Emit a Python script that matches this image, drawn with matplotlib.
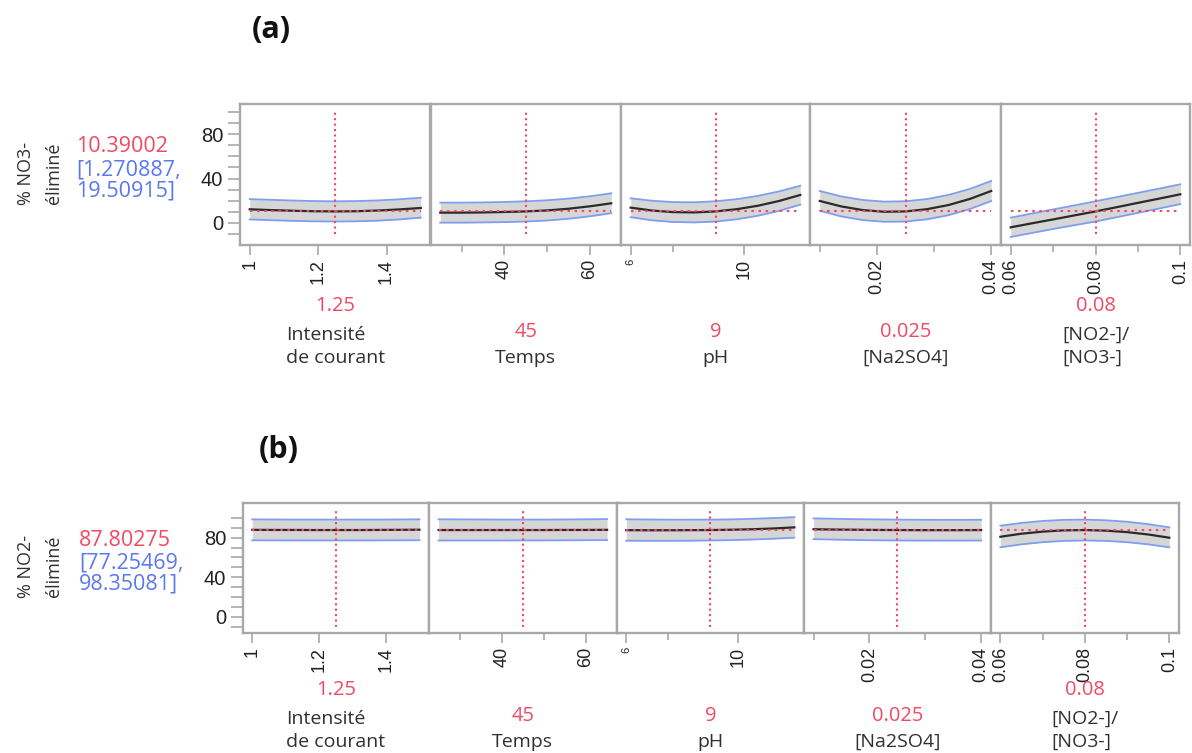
import matplotlib
matplotlib.use("Agg")
import matplotlib.pyplot as plt

W, H = 1192, 753

# factors (shared by both profilers)
factor_names = ["Intensité\nde courant", "Temps", "pH", "[Na2SO4]", "[NO2-]/\n[NO3-]"]
current_x = [1.25, 45, 9, 0.025, 0.08]
current_txt = ["1.25", "45", "9", "0.025", "0.08"]

x_courant = [1.0, 1.0625, 1.125, 1.1875, 1.25, 1.3125, 1.375, 1.4375, 1.5]
x_temps = [25, 30, 35, 40, 45, 50, 55, 60, 65]
x_ph = [6, 6.75, 7.5, 8.25, 9, 9.75, 10.5, 11.25, 12]
x_na2so4 = [0.01, 0.01375, 0.0175, 0.02125, 0.025, 0.02875, 0.0325, 0.03625, 0.04]
x_ratio = [0.06, 0.065, 0.07, 0.075, 0.08, 0.085, 0.09, 0.095, 0.1]
xs = [x_courant, x_temps, x_ph, x_na2so4, x_ratio]

major_ticks = [[1, 1.2, 1.4], [40, 60], [6, 10], [0.02, 0.04], [0.06, 0.08, 0.1]]
major_labels = [["1", "1.2", "1.4"], ["40", "60"], ["6", "10"], ["0.02", "0.04"], ["0.06", "0.08", "0.1"]]
minor_ticks = [[], [30, 50], [7.5], [0.01, 0.03], [0.07, 0.09]]

# (a) % NO3- eliminated
no3_pred = 10.39002
no3_pred_txt = "10.39002"
no3_ci_txt = ["[1.270887,", "19.50915]"]
no3_mean = [
    [12.3, 11.6, 11.0, 10.6, 10.4, 10.6, 11.2, 12.2, 13.5],
    [9.3, 9.3, 9.5, 9.9, 10.4, 11.3, 12.8, 15.0, 17.7],
    [13.8, 11.2, 9.8, 9.5, 10.4, 12.4, 15.5, 19.8, 25.2],
    [19.8, 14.9, 11.6, 10.1, 10.4, 12.4, 16.1, 21.6, 28.8],
    [-3.9, -0.3, 3.2, 6.8, 10.4, 14.2, 18.1, 21.9, 25.8],
]
no3_upper = [
    [21.5, 20.8, 20.2, 19.7, 19.5, 19.7, 20.3, 21.3, 22.7],
    [18.3, 18.3, 18.5, 18.9, 19.5, 20.4, 21.9, 24.0, 26.7],
    [22.2, 20.0, 18.8, 18.6, 19.5, 21.4, 24.4, 28.4, 33.5],
    [28.8, 23.9, 20.7, 19.2, 19.5, 21.5, 25.2, 30.6, 37.8],
    [4.8, 8.5, 12.2, 15.8, 19.5, 23.3, 27.1, 30.9, 34.8],
]
no3_lower = [
    [3.2, 2.5, 1.9, 1.5, 1.3, 1.5, 2.1, 3.2, 4.8],
    [0.3, 0.3, 0.5, 0.8, 1.3, 2.2, 3.8, 6.0, 8.8],
    [5.2, 2.4, 0.9, 0.5, 1.3, 3.3, 6.5, 10.9, 16.5],
    [11.0, 5.9, 2.6, 1.1, 1.3, 3.3, 7.0, 12.5, 19.8],
    [-12.6, -9.0, -5.4, -2.0, 1.3, 5.2, 9.1, 13.0, 17.0],
]

# (b) % NO2- eliminated
no2_pred = 87.80275
no2_pred_txt = "87.80275"
no2_ci_txt = ["[77.25469,", "98.35081]"]
no2_mean = [
    [88.0, 87.9, 87.9, 87.8, 87.8, 87.8, 87.9, 88.0, 88.1],
    [87.8, 87.8, 87.8, 87.8, 87.8, 87.8, 87.9, 87.9, 88.0],
    [87.7, 87.6, 87.6, 87.7, 87.8, 88.1, 88.6, 89.4, 90.5],
    [88.6, 88.3, 88.1, 87.9, 87.8, 87.7, 87.7, 87.7, 87.8],
    [81.0, 84.1, 86.2, 87.5, 87.8, 87.2, 85.7, 83.3, 80.0],
]
no2_upper = [
    [98.6, 98.5, 98.4, 98.4, 98.35, 98.4, 98.4, 98.5, 98.7],
    [98.7, 98.6, 98.5, 98.4, 98.35, 98.4, 98.5, 98.7, 98.9],
    [98.7, 98.5, 98.3, 98.3, 98.35, 98.6, 99.2, 99.9, 100.9],
    [99.6, 99.2, 98.8, 98.6, 98.35, 98.2, 98.1, 98.1, 98.2],
    [92.2, 95.0, 97.0, 98.1, 98.35, 97.7, 96.2, 93.8, 90.5],
]
no2_lower = [
    [77.4, 77.3, 77.3, 77.3, 77.25, 77.3, 77.3, 77.4, 77.5],
    [77.2, 77.2, 77.2, 77.2, 77.25, 77.3, 77.4, 77.5, 77.6],
    [77.0, 76.9, 76.9, 77.0, 77.25, 77.6, 78.2, 79.0, 80.0],
    [78.6, 78.1, 77.7, 77.4, 77.25, 77.1, 77.1, 77.1, 77.2],
    [70.3, 73.3, 75.5, 76.8, 77.25, 76.8, 75.5, 73.3, 70.3],
]

RED = "#f04a64"
BLUE = "#5a78f0"
BAND_LINE = "#7f9ef0"
FRAME = "#a8a8a8"
TXT = "#303030"
LABEL_FONT = ["Open Sans", "DejaVu Sans"]
TICK_FONT = ["Liberation Sans", "DejaVu Sans"]

fig = plt.figure(figsize=(W / 100, H / 100), dpi=100)


def fx(px):
    return px / W


def fy(py):
    return 1 - py / H


def draw_row(edges, right, top, bottom, ylim, ymax_tick, mean, lower, upper,
             pred, pred_txt, ci_txt, resp_lines, resp_y, lab_base):
    all_edges = edges + [right]
    for i in range(5):
        l, r = all_edges[i], all_edges[i + 1]
        ax = fig.add_axes([fx(l), fy(bottom), (r - l) / W, (bottom - top) / H])
        lo, hi = xs[i][0], xs[i][-1]
        pad = 0.057 * (hi - lo)
        ax.set_xlim(lo - pad, hi + pad)
        ax.set_ylim(*ylim)

        ax.fill_between(xs[i], lower[i], upper[i], color="#d6d6d6", lw=0, zorder=1)
        ax.plot(xs[i], upper[i], color=BAND_LINE, lw=1.3, zorder=2)
        ax.plot(xs[i], lower[i], color=BAND_LINE, lw=1.3, zorder=2)
        ax.plot(xs[i], mean[i], color="#2a2a2a", lw=1.6, zorder=3)
        ax.plot([lo, hi], [pred, pred], color=RED, lw=1.5,
                linestyle=(0, (1.2, 2.2)), zorder=4)
        ax.plot([current_x[i], current_x[i]], [-10, ymax_tick], color=RED, lw=1.5,
                linestyle=(0, (1.0, 1.6)), zorder=4)

        for s in ax.spines.values():
            s.set_color(FRAME)
            s.set_linewidth(1.7)

        ax.set_xticks(major_ticks[i])
        ax.set_xticklabels(major_labels[i], rotation=90, fontsize=13,
                           family=TICK_FONT, color="#222222")
        ax.set_xticks(minor_ticks[i], minor=True)
        ax.tick_params(axis="x", which="major", length=7, width=1.2, color=FRAME, pad=3)
        ax.tick_params(axis="x", which="minor", length=5, width=1.2, color=FRAME)
        if i == 2:
            ax.get_xticklabels()[0].set_fontsize(8)

        if i == 0:
            ax.set_yticks([0, 40, 80])
            ax.set_yticklabels(["0", "40", "80"], fontsize=14.5, family=TICK_FONT,
                               color="#222222")
            ax.set_yticks(list(range(-10, ymax_tick + 1, 10)), minor=True)
            ax.tick_params(axis="y", which="both", length=9, width=1.2,
                           color=FRAME, pad=3)
        else:
            ax.set_yticks([])
            ax.tick_params(axis="y", which="both", left=False, labelleft=False)

        # factor label (last line baseline on lab_base) and current setting above it
        cx = (l + r) / 2
        nlines = factor_names[i].count("\n") + 1
        fig.text(fx(cx), fy(lab_base), factor_names[i], ha="center", va="baseline",
                 multialignment="left", fontsize=14, family=LABEL_FONT, color=TXT,
                 linespacing=1.36)
        fig.text(fx(cx), fy(lab_base - 26 * nlines), current_txt[i], ha="center",
                 va="baseline", fontsize=14.5, family=LABEL_FONT, color=RED)

    # response label + predicted value with CI
    fig.text(fx(26), fy(resp_y), resp_lines[0], rotation=90, ha="center", va="center",
             fontsize=13, family=LABEL_FONT, color=TXT)
    fig.text(fx(54), fy(resp_y), resp_lines[1], rotation=90, ha="center", va="center",
             fontsize=13, family=LABEL_FONT, color=TXT)
    x0 = 76 if resp_lines[0].endswith("3-") else 79
    fig.text(fx(x0), fy(resp_y - 26), pred_txt, ha="left", va="center",
             fontsize=15.5, family=LABEL_FONT, color=RED)
    fig.text(fx(x0), fy(resp_y - 3), ci_txt[0], ha="left", va="center",
             fontsize=15.5, family=LABEL_FONT, color=BLUE)
    fig.text(fx(x0), fy(resp_y + 18), ci_txt[1], ha="left", va="center",
             fontsize=15.5, family=LABEL_FONT, color=BLUE)


draw_row([240, 430.5, 621, 810, 1001], 1190, 104, 245, (-19.8, 107), 100,
         no3_mean, no3_lower, no3_upper, no3_pred, no3_pred_txt, no3_ci_txt,
         ["% NO3-", "éliminé"], 173, 363)
draw_row([242.7, 429, 616.7, 804, 990.7], 1179, 502.7, 633.3, (-16.8, 115.5), 108,
         no2_mean, no2_lower, no2_upper, no2_pred, no2_pred_txt, no2_ci_txt,
         ["% NO2-", "éliminé"], 566, 747)

fig.text(fx(271), fy(30), "(a)", ha="center", va="center", fontsize=22,
         fontweight="bold", family=LABEL_FONT, color="#111111")
fig.text(fx(279), fy(450), "(b)", ha="center", va="center", fontsize=22,
         fontweight="bold", family=LABEL_FONT, color="#111111")

fig.savefig("out.png", dpi=100)
